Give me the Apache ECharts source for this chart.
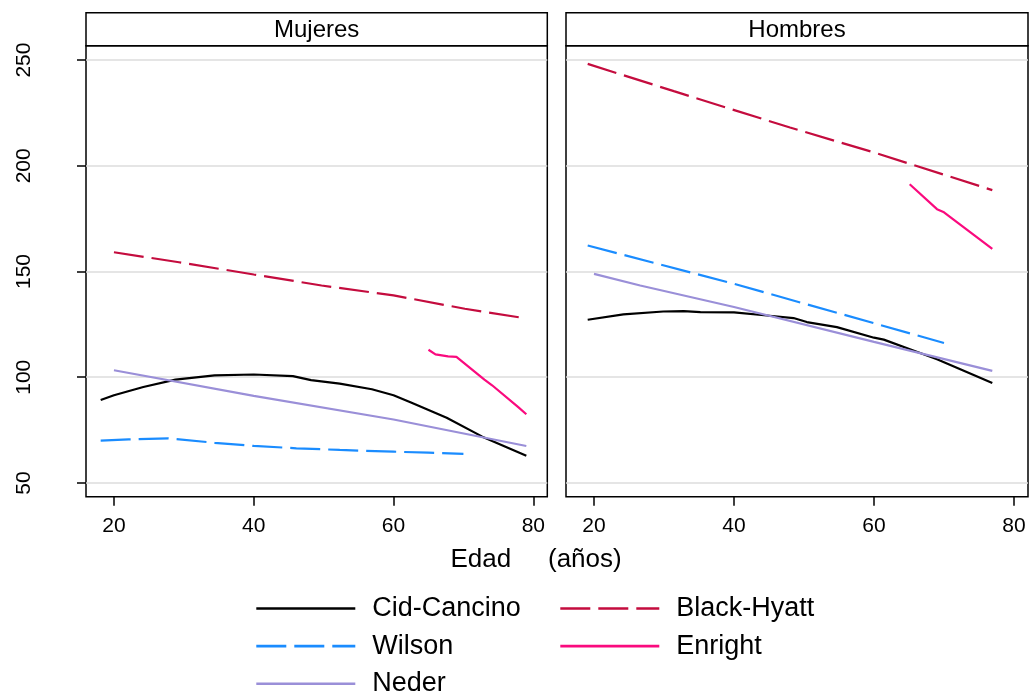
<!DOCTYPE html>
<html lang="es">
<head>
<meta charset="UTF-8">
<title>Edad (años)</title>
<script src="https://cdn.jsdelivr.net/npm/echarts@6.0.0/dist/echarts.min.js"></script>
</head>
<body style="margin:0;background:#fff">
<div id="main" style="width:1030px;height:695px;"></div>
<script>
// panel titles and tick labels
const panels = ['Mujeres', 'Hombres'];
const xTicks = [20, 40, 60, 80];
const yTicks = [50, 100, 150, 200, 250];

// Mujeres: [edad, valor]
const cidMujeres = [[18.1, 89.2], [20, 91.5], [24.2, 95.4], [28.8, 98.9], [34.4, 100.9], [40, 101.3], [45.6, 100.5], [48.2, 98.6], [52.3, 97.0], [56.9, 94.3], [60, 91.5], [62.5, 88.1], [67.6, 80.8], [72.7, 71.9], [79.0, 62.9]];
const wilsonMujeres = [[18.1, 70.0], [22.1, 70.6], [27.8, 71.1], [34.4, 69.0], [40, 67.5], [46.1, 66.4], [52.3, 65.6], [60, 64.8], [65, 64.3], [70, 63.8]];
const nederMujeres = [[20, 103.3], [40, 91.2], [60, 80.0], [79, 67.5]];
const blackMujeres = [[20, 159.1], [29.3, 154.4], [40, 148.6], [49.7, 143.4], [60, 138.7], [70.2, 132.4], [78.6, 128.0]];
const enrightMujeres = [[65.0, 113.0], [66.0, 110.8], [67.8, 109.9], [69.0, 109.6], [73.0, 98.9], [74.1, 96.2], [77.8, 86.0], [79.0, 82.5]];

// Hombres
const cidHombres = [[19.1, 127.2], [24.2, 129.7], [29.9, 131.1], [32.8, 131.3], [35.2, 130.8], [40, 130.7], [44.7, 129.2], [48.5, 128.0], [50.4, 126.1], [54.7, 123.7], [60, 118.7], [61.4, 117.8], [66.2, 111.9], [69, 108.5], [76.9, 97.3]];
const wilsonHombres = [[19.1, 162.3], [40, 144.2], [70, 116.2]];
const nederHombres = [[20, 148.9], [26.6, 143.4], [40, 133.2], [60, 116.7], [76.9, 103.0]];
const blackHombres = [[19.1, 248.2], [31.4, 235.3], [48, 218.1], [60, 206.3], [76.9, 188.5]];
const enrightHombres = [[65.1, 191.3], [69, 179.5], [70, 178.0], [76.9, 160.7]];

const FONT = 'Liberation Sans, Arial, sans-serif';
const chart = echarts.init(document.getElementById('main'));

// grid geometry
const gridTop = 45.7, gridH = 451, stripTop = 12.7;
const grids = [
  { left: 86, top: gridTop, width: 461.3, height: gridH },
  { left: 566, top: gridTop, width: 462, height: gridH }
];

const styles = {
  'Cid-Cancino': { color: '#000000', type: 'solid' },
  'Wilson': { color: '#1a8cff', type: [30, 8] },
  'Neder': { color: '#9a8fd8', type: 'solid' },
  'Black-Hyatt': { color: '#c40c3e', type: [30, 8] },
  'Enright': { color: '#fa0a7e', type: 'solid' }
};

function line(name, data, idx) {
  return {
    name: name,
    type: 'line',
    xAxisIndex: idx,
    yAxisIndex: idx,
    data: data,
    symbol: 'none',
    color: styles[name].color,
    lineStyle: { color: styles[name].color, width: 2.2, type: styles[name].type },
    emphasis: { disabled: true }
  };
}

const series = [
  line('Cid-Cancino', cidMujeres, 0),
  line('Wilson', wilsonMujeres, 0),
  line('Neder', nederMujeres, 0),
  line('Black-Hyatt', blackMujeres, 0),
  line('Enright', enrightMujeres, 0),
  line('Cid-Cancino', cidHombres, 1),
  line('Wilson', wilsonHombres, 1),
  line('Neder', nederHombres, 1),
  line('Black-Hyatt', blackHombres, 1),
  line('Enright', enrightHombres, 1)
];

function xAxis(idx) {
  return {
    type: 'value', gridIndex: idx, min: 16, max: 82,
    axisLine: { show: false },
    axisTick: { show: true, length: 9, customValues: xTicks, lineStyle: { color: '#000', width: 1.5 } },
    axisLabel: { customValues: xTicks, fontSize: 21, margin: 19, color: '#000', fontFamily: FONT },
    splitLine: { show: false }
  };
}

function yAxis(idx) {
  return {
    type: 'value', gridIndex: idx, min: 43.5, max: 256.8,
    axisLine: { show: false },
    axisTick: { show: idx === 0, length: 9, customValues: yTicks, lineStyle: { color: '#000', width: 1.5 } },
    axisLabel: { show: idx === 0, customValues: yTicks, rotate: 90, fontSize: 21, margin: 51, color: '#000', fontFamily: FONT },
    splitLine: { show: true, lineStyle: { color: '#dcdcdc', width: 1.5 } }
  };
}

const graphic = [];
grids.forEach((g, i) => {
  graphic.push({
    type: 'rect', z: 100,
    shape: { x: g.left, y: stripTop, width: g.width, height: gridTop - stripTop },
    style: { fill: '#fff', stroke: '#000', lineWidth: 1.5 }
  });
  graphic.push({
    type: 'text', z: 101, x: g.left + g.width / 2, y: (stripTop + gridTop) / 2 + 1,
    style: { text: panels[i], font: '24px ' + FONT, fill: '#000', align: 'center', verticalAlign: 'middle' }
  });
});
graphic.push({
  type: 'text', x: 450.5, y: 560,
  style: { text: 'Edad', font: '26px ' + FONT, fill: '#000', align: 'left', verticalAlign: 'middle' }
});
graphic.push({
  type: 'text', x: 548, y: 560,
  style: { text: '(años)', font: '26px ' + FONT, fill: '#000', align: 'left', verticalAlign: 'middle' }
});

const legendBase = {
  orient: 'vertical', top: 595, height: 130, padding: 0,
  itemWidth: 99, itemHeight: 30, itemGap: 10.6,
  selectedMode: false,
  itemStyle: { opacity: 0, borderWidth: 0 },
  lineStyle: { width: 2.6 },
  textStyle: { fontSize: 27, color: '#000', fontFamily: FONT, padding: [0, 0, 0, 12] }
};

const option = {
  animation: false,
  backgroundColor: '#fff',
  grid: grids.map(g => Object.assign({ show: true, borderColor: '#000', borderWidth: 1.5, backgroundColor: '#fff' }, g)),
  xAxis: [xAxis(0), xAxis(1)],
  yAxis: [yAxis(0), yAxis(1)],
  legend: [
    Object.assign({ left: 255, data: ['Cid-Cancino', 'Wilson', 'Neder'] }, legendBase),
    Object.assign({ left: 559, data: ['Black-Hyatt', 'Enright'] }, legendBase)
  ],
  graphic: graphic,
  series: series
};

chart.setOption(option);
</script>
</body>
</html>
